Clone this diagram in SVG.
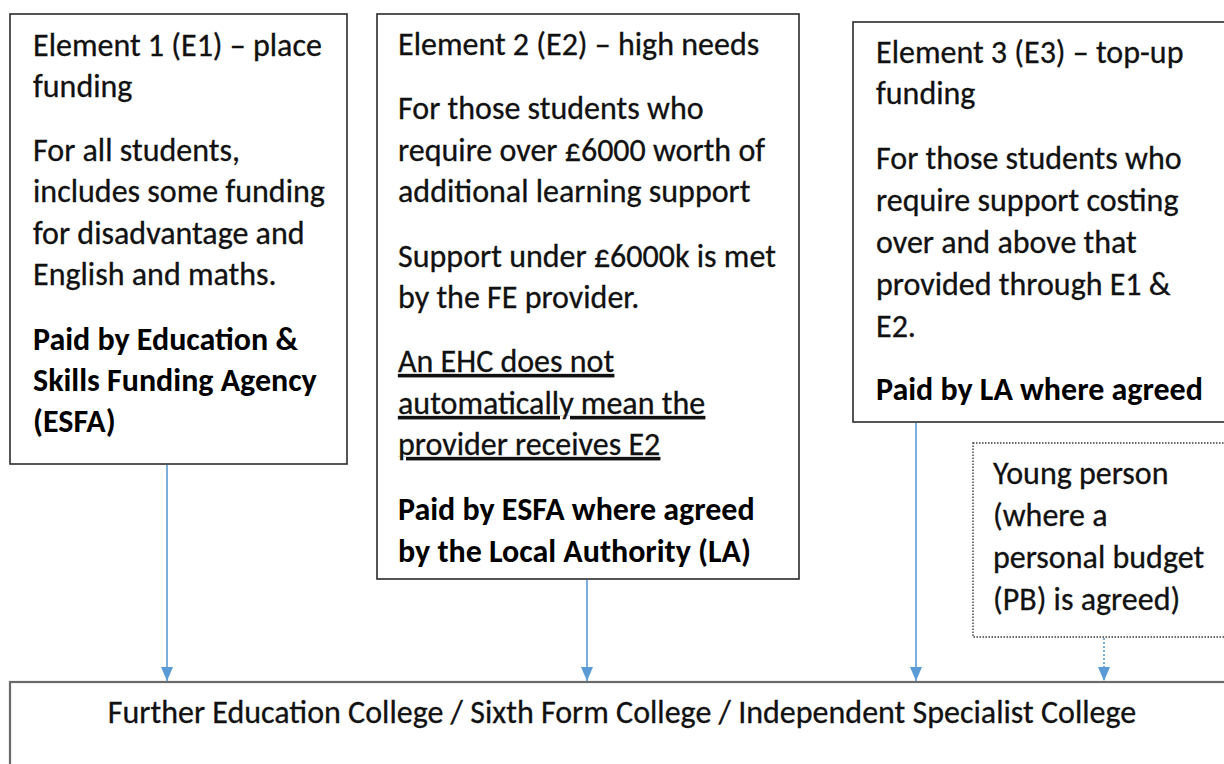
<svg xmlns="http://www.w3.org/2000/svg" width="1224" height="764" viewBox="0 0 1224 764">
  <style>
    .box { fill: #ffffff; stroke: #2b2b2b; stroke-width: 1.6; }
    .dotbox { fill: #ffffff; stroke: #3a3a3a; stroke-width: 1.4; stroke-dasharray: 1.5 1.5; }
    .base { fill: #ffffff; stroke: #6a6a6a; stroke-width: 2.2; }
    text { font-family: Carlito, Lato, "Liberation Sans", sans-serif; font-size: 32px; fill: #111111; stroke: #111111; stroke-width: 0.3; }
    .b { font-weight: bold; fill: #000000; stroke: none; }
    .u { text-decoration: underline; }
    .flow { stroke: #5b9bd5; stroke-width: 1.6; fill: none; }
    .dotflow { stroke: #5b9bd5; stroke-width: 1.6; fill: none; stroke-dasharray: 2 2; }
  </style>
  <defs>
    <!-- filled triangular head, tip at the end of the line -->
    <marker id="head" viewBox="0 0 14 12" refX="14" refY="6" markerWidth="14" markerHeight="12" markerUnits="userSpaceOnUse" orient="auto">
      <path d="M0,0 L14,6 L0,12 Z" fill="#5b9bd5"/>
    </marker>
  </defs>

  <!-- receiving college -->
  <g id="college">
    <rect class="base" x="10" y="682" width="1230" height="100"/>
    <text x="622" y="723" text-anchor="middle">Further Education College / Sixth Form College / Independent Specialist College</text>
  </g>

  <!-- Element 1 -->
  <g id="element1">
    <rect class="box" x="10" y="14" width="337" height="450"/>
    <text x="33" y="56">Element 1 (E1) – place</text>
    <text x="33" y="97">funding</text>
    <text x="33" y="161">For all students,</text>
    <text x="33" y="202">includes some funding</text>
    <text x="33" y="244">for disadvantage and</text>
    <text x="33" y="285">English and maths.</text>
    <text class="b" x="33" y="350">Paid by Education &amp;</text>
    <text class="b" x="33" y="391">Skills Funding Agency</text>
    <text class="b" x="33" y="432">(ESFA)</text>
  </g>

  <!-- Element 2 -->
  <g id="element2">
    <rect class="box" x="377" y="14" width="422" height="565"/>
    <text x="398" y="55">Element 2 (E2) – high needs</text>
    <text x="398" y="119">For those students who</text>
    <text x="398" y="161">require over £6000 worth of</text>
    <text x="398" y="202">additional learning support</text>
    <text x="398" y="267">Support under £6000k is met</text>
    <text x="398" y="308">by the FE provider.</text>
    <text class="u" x="398" y="372">An EHC does not</text>
    <text class="u" x="398" y="414">automatically mean the</text>
    <text class="u" x="398" y="455">provider receives E2</text>
    <text class="b" x="398" y="520">Paid by ESFA where agreed</text>
    <text class="b" x="398" y="562">by the Local Authority (LA)</text>
  </g>

  <!-- Element 3 -->
  <g id="element3">
    <rect class="box" x="853" y="22" width="400" height="400"/>
    <text x="876" y="63">Element 3 (E3) – top-up</text>
    <text x="876" y="104">funding</text>
    <text x="876" y="169">For those students who</text>
    <text x="876" y="211">require support costing</text>
    <text x="876" y="253">over and above that</text>
    <text x="876" y="295">provided through E1 &amp;</text>
    <text x="876" y="337">E2.</text>
    <text class="b" x="876" y="400">Paid by LA where agreed</text>
  </g>

  <!-- personal budget -->
  <g id="young-person">
    <rect class="dotbox" x="973" y="443" width="270" height="194"/>
    <text x="993" y="484">Young person</text>
    <text x="993" y="526">(where a</text>
    <text x="993" y="568">personal budget</text>
    <text x="993" y="610">(PB) is agreed)</text>
  </g>

  <!-- funding flows -->
  <g id="connectors">
    <line class="flow" x1="167" y1="465" x2="167" y2="681" marker-end="url(#head)"/>
    <line class="flow" x1="587" y1="580" x2="587" y2="681" marker-end="url(#head)"/>
    <line class="flow" x1="916" y1="423" x2="916" y2="681" marker-end="url(#head)"/>
    <line class="dotflow" x1="1104" y1="638" x2="1104" y2="681" marker-end="url(#head)"/>
  </g>
</svg>
